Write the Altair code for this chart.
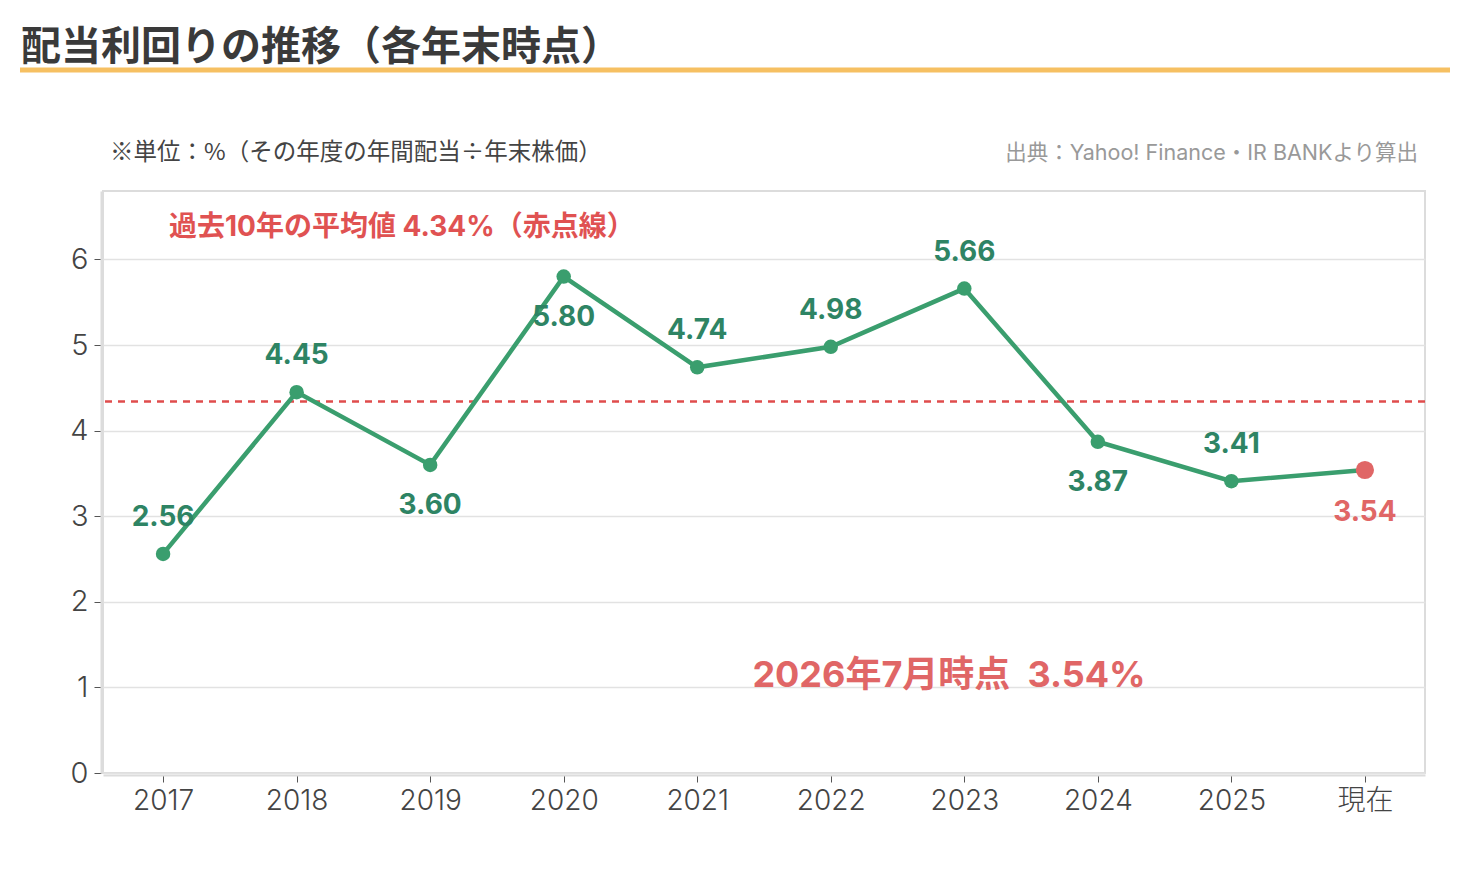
import altair as alt
import pandas as pd

# Dividend yield at each year end (%), plus the current value
periods = ["2017", "2018", "2019", "2020", "2021", "2022", "2023", "2024", "2025", "現在"]
yields = [2.56, 4.45, 3.60, 5.80, 4.74, 4.98, 5.66, 3.87, 3.41, 3.54]
labels_below = ["2019", "2020", "2024"]
current_period = "現在"
average_10y = 4.34

FONT = "Inter, 'Noto Sans CJK JP', sans-serif"
JP_FONT = "'Noto Sans CJK JP', sans-serif"
GREEN = "#3a9e6e"
GREEN_TEXT = "#2e8464"
RED = "#e06666"
NBSP = "\u00a0"

df = pd.DataFrame({"period": periods, "value": yields})
df["label"] = df["value"].map(lambda v: f"{v:.2f}")
avg_df = pd.DataFrame({"value": [average_10y]})

x_enc = alt.X(
    "period:N",
    sort=periods,
    scale=alt.Scale(type="point", padding=0.45),
    axis=alt.Axis(
        title=None, labelAngle=0, labelFontSize=28, labelColor="#444",
        labelFont=FONT, labelFontWeight=300, tickColor="#555", tickSize=7,
        domainColor="#dcdcdc", domainWidth=2, grid=False, labelPadding=5,
        offset=2,
    ),
)
y_enc = alt.Y(
    "value:Q",
    scale=alt.Scale(domain=[0, 6.8], nice=False),
    axis=alt.Axis(
        title=None, values=[0, 1, 2, 3, 4, 5, 6], format="d", labelFontSize=29,
        labelColor="#444", labelFont=FONT, labelFontWeight=300, tickColor="#555",
        tickSize=7, domainColor="#dcdcdc", domainWidth=2, gridColor="#e2e2e2",
        gridWidth=1.5, labelPadding=6, offset=2,
    ),
)

base = alt.Chart(df)

line = base.mark_line(color=GREEN, strokeWidth=4.5).encode(x=x_enc, y=y_enc)

points = base.transform_filter(
    alt.datum.period != current_period
).mark_circle(color=GREEN, size=210, opacity=1).encode(x="period:N", y="value:Q")

current_point = base.transform_filter(
    alt.datum.period == current_period
).mark_circle(color=RED, size=330, opacity=1).encode(x="period:N", y="value:Q")

not_above = alt.FieldOneOfPredicate(field="period", oneOf=labels_below + [current_period])

labels_up = base.transform_filter(
    {"not": not_above}
).mark_text(font=FONT, fontSize=28, fontWeight="bold", color=GREEN_TEXT, dy=-36).encode(
    x="period:N", y="value:Q", text="label:N"
)
labels_down = base.transform_filter(
    alt.FieldOneOfPredicate(field="period", oneOf=labels_below)
).mark_text(font=FONT, fontSize=28, fontWeight="bold", color=GREEN_TEXT, dy=41).encode(
    x="period:N", y="value:Q", text="label:N"
)
label_current = base.transform_filter(
    alt.datum.period == current_period
).mark_text(font=FONT, fontSize=28, fontWeight="bold", color=RED, dy=43).encode(
    x="period:N", y="value:Q", text="label:N"
)

avg_rule = alt.Chart(avg_df).mark_rule(
    color="#e04c4c", strokeWidth=2.5, strokeDash=[7, 6]
).encode(y="value:Q")

annot_df = pd.DataFrame({"t": [0]})
annot = alt.Chart(annot_df)

avg_note = annot.mark_text(
    text=f"過去10年の平均値 {average_10y:.2f}%（赤点線）", font=FONT, fontSize=28,
    fontWeight="bold", color="#e05252", align="left", baseline="middle",
).encode(x=alt.value(66), y=alt.value(37))

current_note = annot.mark_text(
    text=f"2026年7月時点{NBSP}{NBSP}{yields[-1]:.2f}%", font=FONT, fontSize=36,
    fontWeight="bold", color=RED, align="center", baseline="middle",
).encode(x=alt.value(846), y=alt.value(485))

title = annot.mark_text(
    text="配当利回りの推移（各年末時点）", font=JP_FONT, fontSize=40,
    fontWeight="bold", color="#3a3a3a", align="left", baseline="middle",
).encode(x=alt.value(-82), y=alt.value(-143))

underline = annot.mark_rule(color="#f6c062", strokeWidth=5).encode(
    x=alt.value(-83), x2=alt.value(1347), y=alt.value(-121)
)

unit_note = annot.mark_text(
    text="※単位：%（その年度の年間配当÷年末株価）", font=JP_FONT, fontSize=23.5,
    color="#444", align="left", baseline="middle",
).encode(x=alt.value(7), y=alt.value(-38))

source_note = annot.mark_text(
    text="出典：Yahoo! Finance・IR BANKより算出", font=FONT, fontSize=21.5,
    color="#999", align="right", baseline="middle",
).encode(x=alt.value(1315), y=alt.value(-37))

chart = alt.layer(
    avg_rule, line, points, current_point, labels_up, labels_down, label_current,
    avg_note, current_note, title, underline, unit_note, source_note,
).properties(
    width=1322, height=582,
    autosize=alt.AutoSizeParams(type="none"),
    padding={"left": 103, "top": 191, "right": 45, "bottom": 97},
    background="white",
).configure_view(
    stroke="#dcdcdc", strokeWidth=2
)

chart.save("out.html", embed_options={"renderer": "svg", "actions": False})
